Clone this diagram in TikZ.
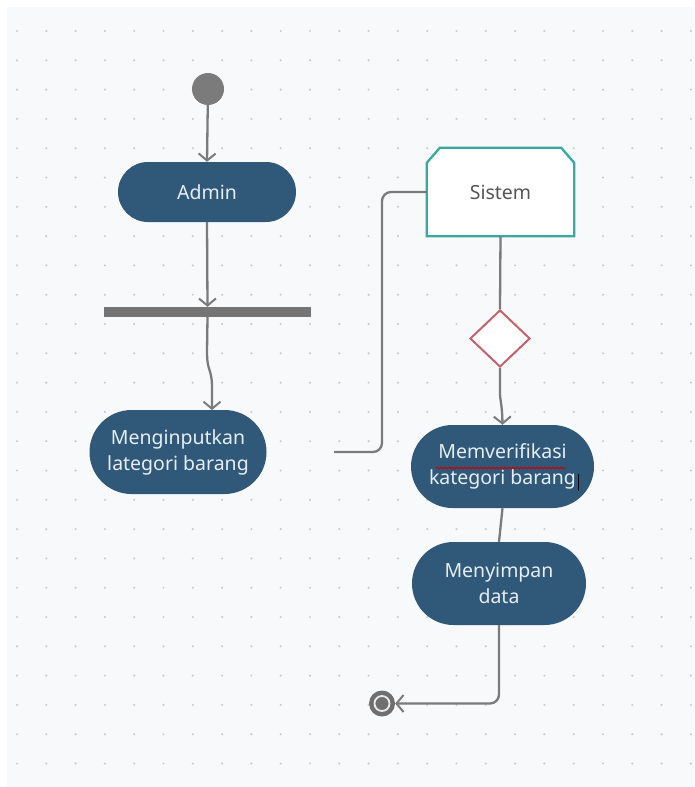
\documentclass[tikz,border=0pt]{standalone}
\usepackage{fontspec}
\setmainfont{Noto Sans}
\usetikzlibrary{arrows.meta,shapes.geometric,shapes.misc,decorations.pathmorphing,calc}
\definecolor{bgc}{HTML}{F8F9FB}
\definecolor{dotc}{HTML}{C9CDD2}
\definecolor{pillc}{HTML}{2F5879}
\definecolor{pilltext}{HTML}{E6EEF3}
\definecolor{linec}{HTML}{7B7B7B}
\definecolor{tealc}{HTML}{3AA9A2}
\definecolor{diac}{HTML}{C4636C}
\definecolor{sistext}{HTML}{555555}
\tikzset{
  pill/.style={rounded rectangle, fill=pillc, text=pilltext, font=\fontsize{19.5}{26}\selectfont, align=center, inner sep=0pt},
  conn/.style={draw=linec, line width=2.3pt},
  arr/.style={conn, -{Straight Barb[length=7pt,width=17pt,line width=2pt]}},
}
\begin{document}
\begin{tikzpicture}[x=1pt,y=-1pt]
\useasboundingbox (0,0) rectangle (694,787);
\fill[white] (0,0) rectangle (694,787);
\fill[bgc] (7,7) rectangle (694,787);
\foreach \i in {0,...,23} {
  \foreach \j in {0,...,25} {
    \fill[dotc] (17+29.3*\i, 31+29.3*\j) circle (1.2pt);
  }
}
% nodes
\node[circle, fill=linec, minimum size=32pt, inner sep=0pt] (start) at (208,89) {};
\node[pill, minimum width=178pt, minimum height=60pt] (admin) at (207,192) {Admin};
\node[rectangle, fill=linec!95!black, minimum width=207pt, minimum height=10pt, inner sep=0pt] (bar) at (207.5,312) {};
\node[pill, minimum width=177pt, minimum height=84pt] (input) at (178,452) {Menginputkan\\lategori barang};
\node[minimum width=147pt, minimum height=88pt, inner sep=0pt] (sis) at (500.5,192) {};
\draw[tealc, line width=2.3pt, fill=white]
  ($(sis.south west)$) -- ($(sis.north west)+(0,15)$) -- ($(sis.north west)+(13,0)$)
  -- ($(sis.north east)+(-13,0)$) -- ($(sis.north east)+(0,15)$) -- (sis.south east) -- cycle;
\node[text=sistext, font=\fontsize{19.5}{26}\selectfont] (sislabel) at (sis) {Sistem};
\node[diamond, draw=diac, fill=white, line width=2pt, minimum width=60pt, minimum height=57pt, inner sep=0pt] (dia) at (500,338.5) {};
\node[pill, minimum width=183pt, minimum height=83pt] (verif) at (502.5,466.5) {Memverifikasi\\kategori barang};
\node[pill, minimum width=174pt, minimum height=83pt] (simpan) at (499,583.5) {Menyimpan\\data};
\node[circle, fill=linec!90!black, minimum size=26pt, inner sep=0pt] (end) at (382,703.5) {};
\draw[white!85!linec, line width=1.8pt] (end.center) circle (7.5pt);
\coordinate (free) at (334,452);
\coordinate (inputin) at (212,410);
% red squiggle and cursor
\draw[red!80!black, line width=1pt, decorate, decoration={snake, amplitude=0.8pt, segment length=4pt}] (436,468) -- (566,468);
\draw[black, line width=0.9pt] (578,474) -- (578,491);
% connectors
\draw[arr] (start) -- (admin.north);
\draw[arr] (admin.south) -- (bar.north);
\draw[arr] (bar.south) -- (207,352) .. controls (207,372) and (212,368) .. (212,388) -- (inputin);
\draw[conn, rounded corners=9pt] (free) -- (382,452) -- (382,192) -- (sis.west);
\draw[conn] (sis.south) -- (dia.north);
\draw[arr] (dia.south) -- (500,392) .. controls (500,402) and (502,402) .. (verif.north);
\draw[conn] (verif.south) -- (simpan.north);
\draw[arr, rounded corners=9pt] (simpan.south) -- (499,703.5) -- (end.east);
\end{tikzpicture}
\end{document}
